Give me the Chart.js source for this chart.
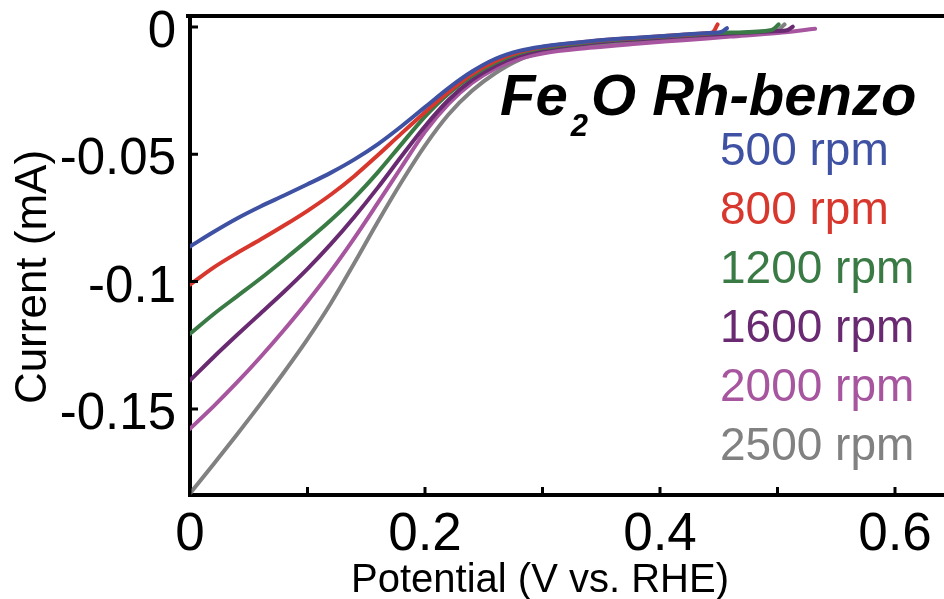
<!DOCTYPE html>
<html>
<head>
<meta charset="utf-8">
<script src="https://cdn.jsdelivr.net/npm/chart.js@4"></script>
<style>
  html, body { margin: 0; padding: 0; background: #fff; }
  canvas { display: block; }
</style>
</head>
<body>
<canvas id="lsv" width="944" height="599"></canvas>
<script>
// --- Dados (LSV, Fe2O Rh-benzo) ---
const rpmLabels = ['500 rpm', '800 rpm', '1200 rpm', '1600 rpm', '2000 rpm', '2500 rpm'];
const rpmColors = ['#3f51a2', '#d8372d', '#3a7b45', '#692a72', '#a6559e', '#818181'];

// potencial comum (V vs. RHE)
const potential = [0, 0.02, 0.04, 0.06, 0.08, 0.10, 0.12, 0.14, 0.16, 0.18, 0.20,
                   0.22, 0.24, 0.26, 0.28, 0.30, 0.34, 0.38, 0.42];

// corrente (mA) em cada potencial
const current500  = [-0.0862, -0.0805, -0.0752, -0.0705, -0.0662, -0.0618, -0.0572, -0.0520, -0.0460, -0.0390, -0.0315,
                     -0.0240, -0.0175, -0.0125, -0.0094, -0.0077, -0.0056, -0.0042, -0.0030];
const current800  = [-0.1012, -0.0945, -0.0888, -0.0835, -0.0780, -0.0722, -0.0658, -0.0585, -0.0503, -0.0418, -0.0335,
                     -0.0255, -0.0185, -0.0133, -0.0099, -0.0079, -0.0057, -0.0043, -0.0031];
const current1200 = [-0.1205, -0.1128, -0.1058, -0.0988, -0.0914, -0.0838, -0.0758, -0.0670, -0.0570, -0.0460, -0.0352,
                     -0.0262, -0.0192, -0.0140, -0.0104, -0.0083, -0.0060, -0.0045, -0.0033];
const current1600 = [-0.1388, -0.1297, -0.1210, -0.1125, -0.1040, -0.0950, -0.0852, -0.0745, -0.0630, -0.0508, -0.0390,
                     -0.0287, -0.0208, -0.0152, -0.0113, -0.0089, -0.0064, -0.0049, -0.0037];
const current2000 = [-0.1578, -0.1490, -0.1396, -0.1296, -0.1190, -0.1078, -0.0958, -0.0828, -0.0690, -0.0550, -0.0412,
                     -0.0302, -0.0220, -0.0163, -0.0126, -0.0104, -0.0082, -0.0066, -0.0052];
const current2500 = [-0.1832, -0.1717, -0.1600, -0.1480, -0.1356, -0.1226, -0.1084, -0.0926, -0.0764, -0.0609, -0.0466,
                     -0.0344, -0.0251, -0.0181, -0.0129, -0.0100, -0.0073, -0.0055, -0.0042];

// final de cada varredura (com o pequeno gancho)
const tailPot500  = [0.445, 0.452, 0.457];         const tailCur500  = [-0.0023, -0.0020, -0.0005];
const tailPot800  = [0.440, 0.445, 0.449];         const tailCur800  = [-0.0025, -0.0021, 0.0010];
const tailPot1200 = [0.460, 0.495, 0.501];         const tailCur1200 = [-0.0022, -0.0012, 0.0010];
const tailPot1600 = [0.460, 0.500, 0.508, 0.513];  const tailCur1600 = [-0.0026, -0.0016, -0.0013, 0.0001];
const tailPot2000 = [0.460, 0.500, 0.532];         const tailCur2000 = [-0.0038, -0.0024, -0.0007];
const tailPot2500 = [0.460, 0.500, 0.506];         const tailCur2500 = [-0.0028, -0.0013, 0.0010];

// eixos
const xTicks = [0, 0.1, 0.2, 0.3, 0.4, 0.5, 0.6];
const xTickLabels = ['0', '', '0.2', '', '0.4', '', '0.6'];
const yTicks = [-0.15, -0.1, -0.05, 0];
const yTickLabels = ['-0.15', '-0.1', '-0.05', '0'];
const xRange = [0, 0.6417];
const yRange = [-0.1838, 0.0043];

const titleMain = 'Fe';
const titleSub = '2';
const titleRest = 'O Rh-benzo';
const xTitle = 'Potential (V vs. RHE)';
const yTitle = 'Current (mA)';

const FONT = '"Liberation Sans", Arial, Helvetica, sans-serif';

// --- Montagem dos datasets ---
const series = [
    [current500, tailPot500, tailCur500],
    [current800, tailPot800, tailCur800],
    [current1200, tailPot1200, tailCur1200],
    [current1600, tailPot1600, tailCur1600],
    [current2000, tailPot2000, tailCur2000],
    [current2500, tailPot2500, tailCur2500]
];

const datasets = series.map(([cur, tp, tc], i) => {
    const xs = potential.concat(tp);
    const ys = cur.concat(tc);
    return {
        label: rpmLabels[i],
        data: xs.map((v, j) => ({ x: v, y: ys[j] })),
        borderColor: rpmColors[i],
        backgroundColor: rpmColors[i],
        borderWidth: 4,
        pointRadius: 0,
        fill: false,
        cubicInterpolationMode: 'monotone',
        borderCapStyle: 'round',
        borderJoinStyle: 'round'
    };
});

// --- Plugin: moldura, ticks para dentro, título, legenda, títulos dos eixos ---
const decorPlugin = {
    id: 'decor',
    afterDraw(chart) {
        const { ctx, chartArea, scales: { x, y } } = chart;
        ctx.save();
        ctx.strokeStyle = '#000';
        ctx.lineWidth = 4;
        ctx.beginPath();
        ctx.moveTo(chartArea.left - 4, chartArea.top);
        ctx.lineTo(chart.width, chartArea.top);
        ctx.stroke();

        ctx.lineWidth = 3;
        ctx.beginPath();
        xTicks.forEach(v => {
            const px = x.getPixelForValue(v);
            ctx.moveTo(px, chartArea.bottom);
            ctx.lineTo(px, chartArea.bottom - 8);
        });
        yTicks.forEach(v => {
            const py = y.getPixelForValue(v);
            ctx.moveTo(chartArea.left, py);
            ctx.lineTo(chartArea.left + 8, py);
        });
        ctx.stroke();

        // título
        ctx.fillStyle = '#000';
        ctx.textBaseline = 'alphabetic';
        ctx.textAlign = 'left';
        ctx.font = 'italic bold 58px ' + FONT;
        let tx = 500;
        ctx.fillText(titleMain, tx, 115);
        tx += ctx.measureText(titleMain).width + 3;
        ctx.font = 'italic bold 31px ' + FONT;
        ctx.fillText(titleSub, tx, 136);
        tx += ctx.measureText(titleSub).width + 3;
        ctx.font = 'italic bold 58px ' + FONT;
        ctx.fillText(titleRest, tx, 115);

        // legenda
        ctx.font = '46px ' + FONT;
        chart.data.datasets.forEach((ds, i) => {
            ctx.fillStyle = ds.borderColor;
            ctx.fillText(ds.label, 720, 165 + i * 59);
        });

        // títulos dos eixos
        ctx.fillStyle = '#000';
        ctx.textAlign = 'center';
        ctx.font = '40px ' + FONT;
        ctx.fillText(xTitle, 540, 592);
        ctx.save();
        ctx.translate(46, 277);
        ctx.rotate(-Math.PI / 2);
        ctx.font = '44px ' + FONT;
        ctx.fillText(yTitle, 0, 0);
        ctx.restore();

        ctx.restore();
    }
};

new Chart(document.getElementById('lsv'), {
    type: 'line',
    data: { datasets },
    options: {
        responsive: false,
        animation: false,
        layout: { autoPadding: false, padding: { top: 16, left: 0, right: 0, bottom: 0 } },
        plugins: { legend: { display: false }, tooltip: { enabled: false } },
        scales: {
            x: {
                type: 'linear',
                min: xRange[0],
                max: xRange[1],
                afterBuildTicks: s => { s.ticks = xTicks.map(v => ({ value: v })); },
                afterFit: s => { s.height = 104; s.paddingLeft = 0; s.paddingRight = 0; },
                grid: { display: false, drawTicks: false },
                border: { display: true, color: '#000', width: 4 },
                ticks: {
                    autoSkip: false,
                    maxRotation: 0,
                    padding: 9,
                    color: '#000',
                    font: { family: FONT, size: 53 },
                    callback: (v, i) => xTickLabels[i]
                }
            },
            y: {
                type: 'linear',
                min: yRange[0],
                max: yRange[1],
                afterBuildTicks: s => { s.ticks = yTicks.map(v => ({ value: v })); },
                afterFit: s => { s.width = 190; s.paddingTop = 0; s.paddingBottom = 0; },
                grid: { display: false, drawTicks: false },
                border: { display: true, color: '#000', width: 4 },
                ticks: {
                    autoSkip: false,
                    padding: 14,
                    labelOffset: 6,
                    color: '#000',
                    font: { family: FONT, size: 51 },
                    callback: (v, i) => yTickLabels[i]
                }
            }
        }
    },
    plugins: [decorPlugin]
});
</script>
</body>
</html>
